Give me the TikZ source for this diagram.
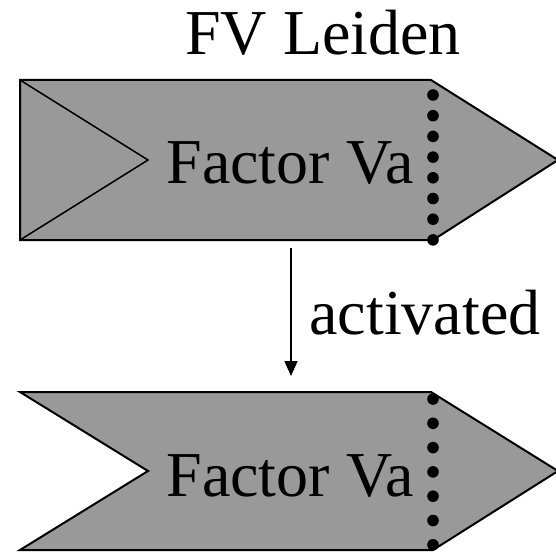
\documentclass[tikz,border=0pt]{standalone}
\usepackage{fontspec}
\setmainfont{Liberation Serif}
\usetikzlibrary{arrows.meta}
\begin{document}
\begin{tikzpicture}[x=1pt,y=-1pt,
  shapebox/.style={draw=black,line width=2pt,fill=shapegrey,line join=miter},
  bigtext/.style={font=\fontsize{64}{72}\selectfont,inner sep=0pt,anchor=base},
  dotmark/.style={fill=black,draw=none}]
\definecolor{shapegrey}{RGB}{153,153,153}
\useasboundingbox (0,0) rectangle (556,553);
% top shape
\draw[shapebox] (20,80) -- (431,80) -- (558,160) -- (433,240) -- (20,240) -- cycle;
\draw[line width=1.5pt] (20,80) -- (148,160) -- (20,240);
\foreach \i in {0,...,7} {\fill[dotmark] (433,{95+\i*20.7}) circle (5.8);}
% bottom shape
\draw[shapebox] (20,392) -- (431,392) -- (558,471) -- (433,550) -- (20,550) -- (148,471) -- cycle;
\foreach \i in {0,...,6} {\fill[dotmark] (433,{399+\i*24.3}) circle (5.8);}
% texts
\node[bigtext] (title) at (323,55) {FV Leiden};
\node[bigtext] (fa1) at (290,184) {Factor Va};
\node[bigtext] (fa2) at (290,496) {Factor Va};
\node[bigtext] (act) at (425,334) {activated};
% arrow
\coordinate (astart) at (291,248);
\coordinate (aend) at (291,376);
\draw[line width=1.6pt,-{Triangle[length=15pt,width=13pt]}] (astart) -- (aend);
\end{tikzpicture}
\end{document}
